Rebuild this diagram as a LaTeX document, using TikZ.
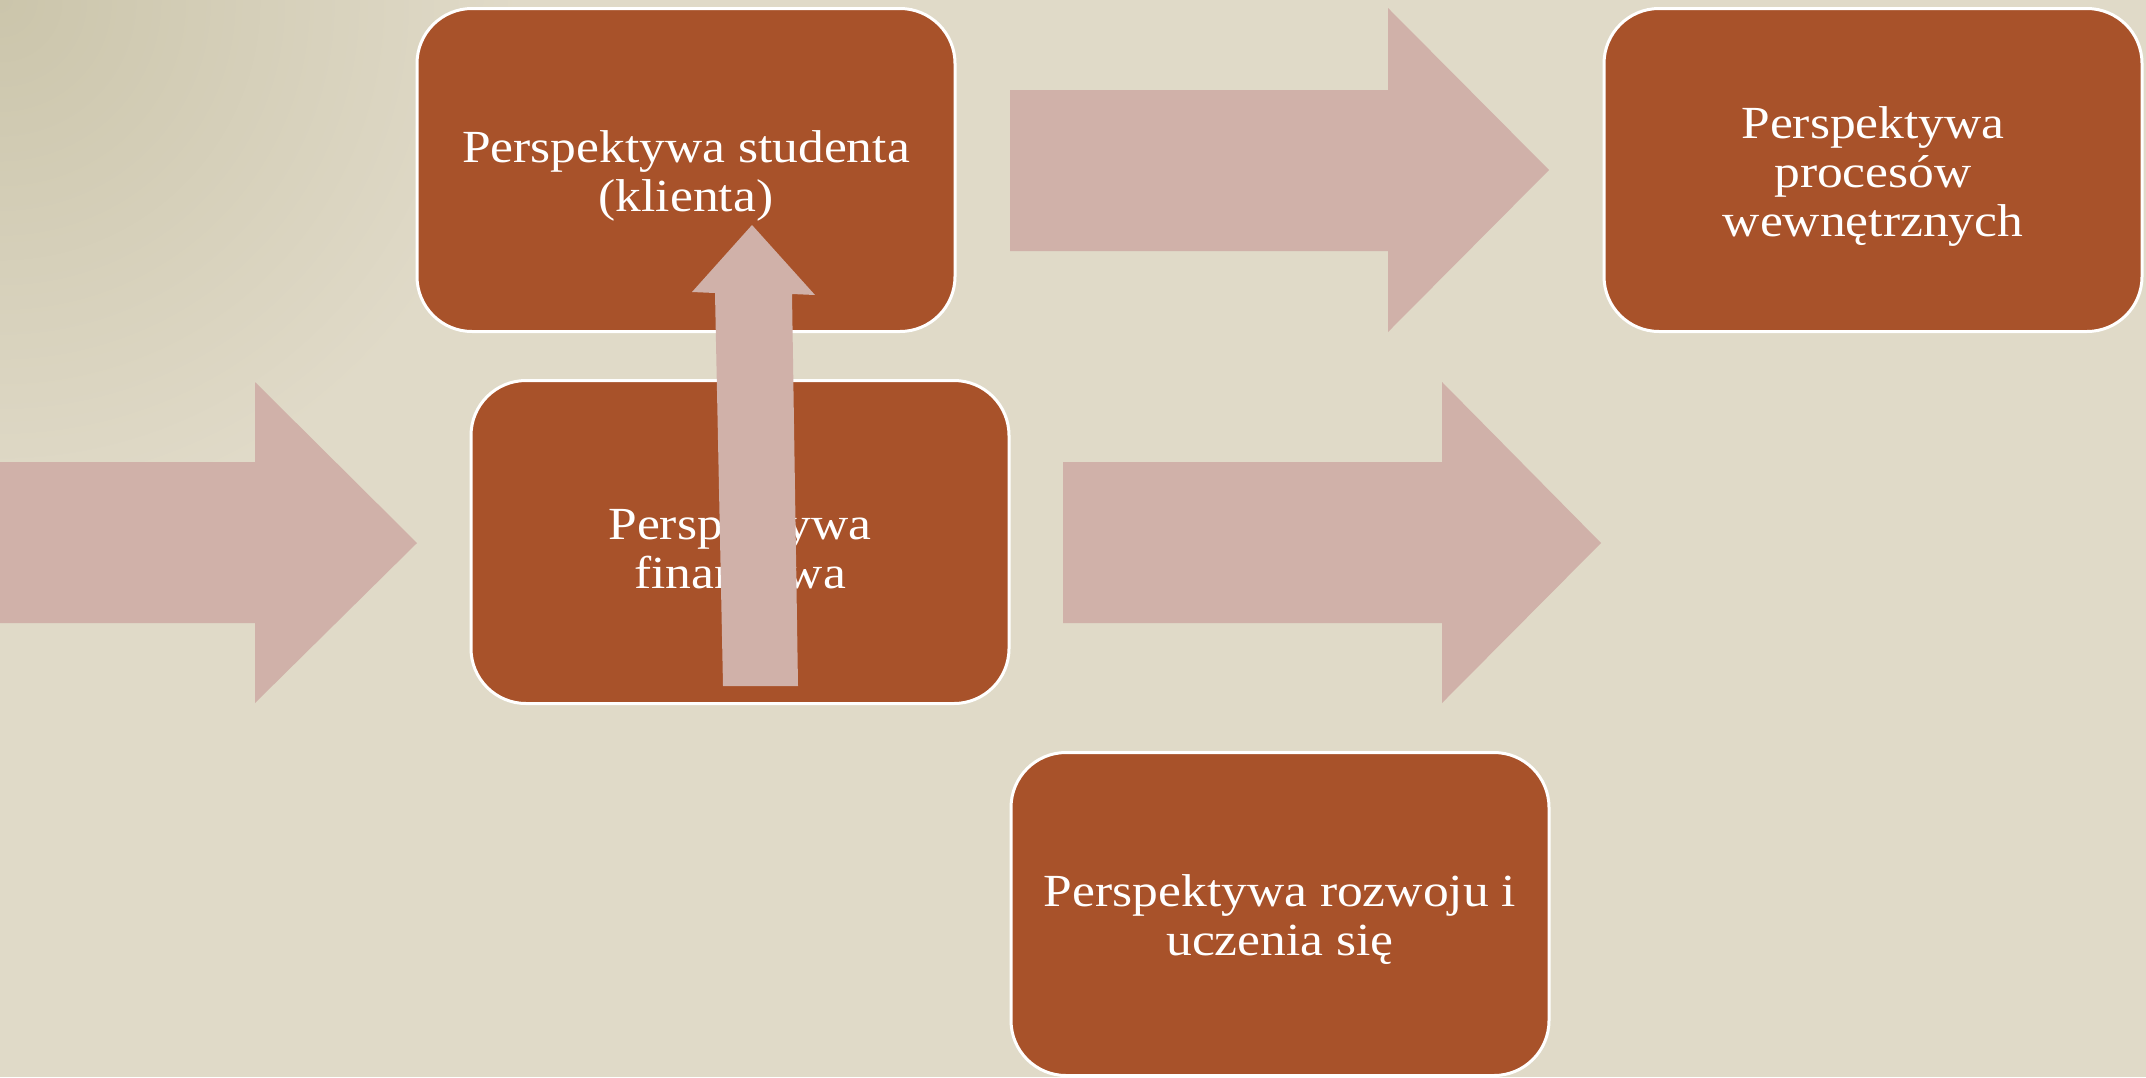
\documentclass[tikz,border=0pt]{standalone}
\usepackage{fontspec}
\setmainfont{Liberation Serif}[FakeStretch=1.12]
\definecolor{paper}{HTML}{E0DAC8}
\definecolor{paperdark}{HTML}{CBC5AB}
\definecolor{boxfill}{HTML}{A8522A}
\definecolor{arrowfill}{HTML}{D0B1A9}
\begin{document}
\begin{tikzpicture}[x=1pt,y=-1pt,
  box/.style={draw=white, line width=3pt, fill=boxfill, rounded corners=55pt,
    minimum width=538pt, minimum height=323pt, inner sep=0pt},
  boxtext/.style={text=white, align=center, inner sep=0pt, yshift=-6pt,
    font=\fontsize{46}{49}\selectfont},
  blockarrow/.style={fill=arrowfill}]
  \useasboundingbox (0,0) rectangle (2146,1077);
  % paper background with a darker top-left corner
  \fill[paper] (0,0) rectangle (2146,1077);
  \begin{scope}
    \clip (0,0) rectangle (2146,1077);
    \shade[inner color=paperdark, outer color=paper] (0,0) circle[radius=520pt];
  \end{scope}

  % perspective boxes
  \node[box, label={[boxtext]center:{Perspektywa studenta\\(klienta)}}]
    (student) at (686,170) {};
  \node[box, label={[boxtext]center:{Perspektywa\\procesów\\wewnętrznych}}]
    (procesy) at (1873,170) {};
  \node[box, label={[boxtext]center:{Perspektywa\\finansowa}}]
    (finanse) at (740,542) {};
  \node[box, label={[boxtext]center:{Perspektywa rozwoju i\\uczenia się}}]
    (rozwoj) at (1280,914) {};

  % block arrows
  \fill[blockarrow] (0,462) -- (255,462) -- (255,382) -- (417,543)
    -- (255,703) -- (255,623) -- (0,623) -- cycle;
  \fill[blockarrow] (1010,90) -- (1388,90) -- (1388,8) -- (1549,170)
    -- (1388,332) -- (1388,251) -- (1010,251) -- cycle;
  \fill[blockarrow] (1063,462) -- (1442,462) -- (1442,382) -- (1601,543)
    -- (1442,703) -- (1442,623) -- (1063,623) -- cycle;
  % upward arrow from the financial box into the student box
  \fill[blockarrow] (723,686) -- (715,293) -- (692,292) -- (752,225)
    -- (815,295) -- (792,294) -- (798,686) -- cycle;
\end{tikzpicture}
\end{document}
